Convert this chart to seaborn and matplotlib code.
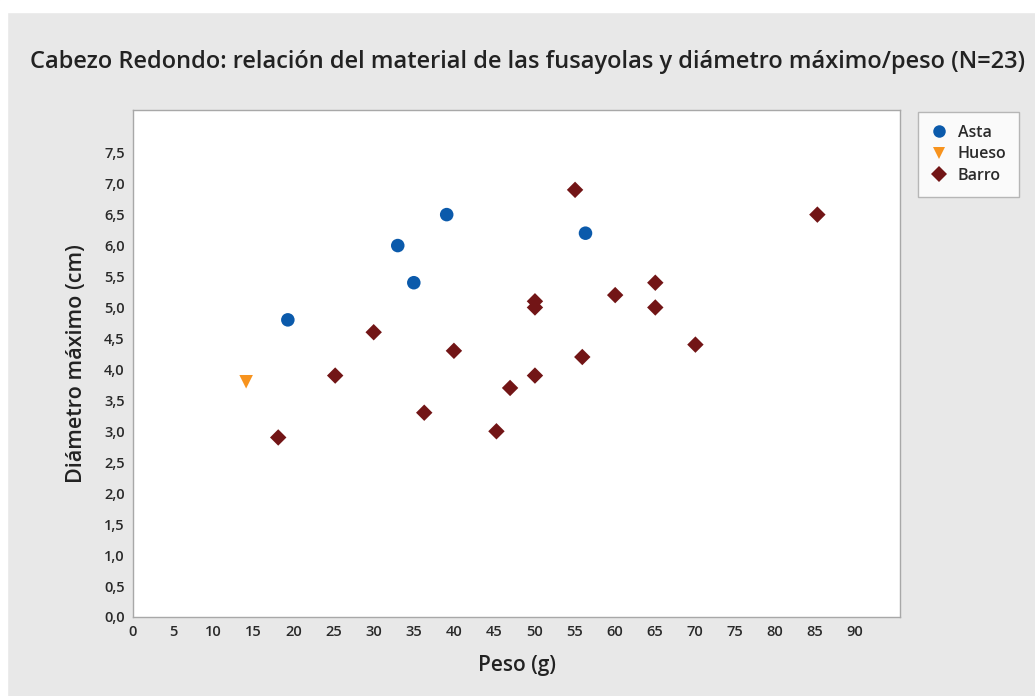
import pandas as pd
import matplotlib
matplotlib.use("Agg")
import matplotlib.pyplot as plt
import seaborn as sns

# Data
asta_peso = [19.3, 33.0, 35.0, 39.1, 56.4]
asta_diam = [4.8, 6.0, 5.4, 6.5, 6.2]

hueso_peso = [14.1]
hueso_diam = [3.8]

barro_peso = [18.1, 25.2, 30.0, 36.3, 40.0, 45.3, 47.0, 50.1, 50.1, 50.1,
              55.1, 56.0, 60.1, 65.1, 65.1, 70.1, 85.3]
barro_diam = [2.9, 3.9, 4.6, 3.3, 4.3, 3.0, 3.7, 3.9, 5.1, 5.0,
              6.9, 4.2, 5.2, 5.4, 5.0, 4.4, 6.5]

materiales = ["Asta", "Hueso", "Barro"]
colores = {"Asta": "#0b5aab", "Hueso": "#f7931e", "Barro": "#721516"}
marcadores = {"Asta": "o", "Hueso": "v", "Barro": "D"}

x_ticks = list(range(0, 95, 5))
y_ticks = [i * 0.5 for i in range(16)]

df = pd.DataFrame({
    "peso": asta_peso + hueso_peso + barro_peso,
    "diam": asta_diam + hueso_diam + barro_diam,
    "material": (["Asta"] * len(asta_peso) + ["Hueso"] * len(hueso_peso)
                 + ["Barro"] * len(barro_peso)),
})

sns.set_style("white")
plt.rcParams["font.family"] = ["Open Sans", "DejaVu Sans"]

bg = "#e8e8e8"
fig = plt.figure(figsize=(10.35, 6.96), dpi=100, facecolor=bg)
# thin white border along top and left, as in the screenshot
fig.patches.append(plt.Rectangle((0, 1 - 12 / 696), 1, 12 / 696, transform=fig.transFigure,
                                 color="white", zorder=0))
fig.patches.append(plt.Rectangle((0, 0), 7 / 1035, 1, transform=fig.transFigure,
                                 color="white", zorder=0))

ax = fig.add_axes([133 / 1035, 1 - 617 / 696, (900 - 133) / 1035, (617 - 110) / 696])

sizes = {"Asta": 95, "Hueso": 95, "Barro": 70}
for m in materiales:
    sub = df[df["material"] == m]
    sns.scatterplot(data=sub, x="peso", y="diam", color=colores[m],
                    marker=marcadores[m], s=sizes[m], edgecolor="none",
                    ax=ax, legend=False)

ax.set_xlim(0, 95.6)
ax.set_ylim(0, 8.19)
ax.set_xticks(x_ticks)
ax.set_yticks(y_ticks)
ax.set_yticklabels([f"{v:.1f}".replace(".", ",") for v in y_ticks])
ax.tick_params(axis="both", direction="out", length=4, width=1, color="#a0a0a0",
               labelsize=10.5, labelcolor="#2a2a2a", pad=2)
for lbl in ax.get_xticklabels() + ax.get_yticklabels():
    lbl.set_fontweight("semibold")
for s in ax.spines.values():
    s.set_color("#a8a8a8")
    s.set_linewidth(1)

ax.set_xlabel("Peso (g)", fontsize=15, fontweight="semibold", color="#222222", labelpad=11)
ax.set_ylabel("Diámetro máximo (cm)", fontsize=15.5, fontweight="semibold", color="#222222", labelpad=12)

fig.text(0.5 * (28 + 1028) / 1035, 1 - 68 / 696,
         "Cabezo Redondo: relación del material de las fusayolas y diámetro máximo/peso (N=23)",
         ha="center", va="baseline", fontsize=17, fontweight="semibold", color="#222222")

handles = [plt.Line2D([], [], linestyle="none", marker=marcadores[m], color=colores[m],
                      markersize=9 if m != "Barro" else 8, markeredgewidth=0)
           for m in materiales]
leg = fig.legend(handles, materiales, loc="upper left",
                 bbox_to_anchor=(918 / 1035, 1 - 112 / 696),
                 frameon=True, fancybox=False,
                 prop={"size": 11.5, "weight": "semibold"},
                 handletextpad=0.7, borderpad=0.8, labelspacing=0.35,
                 handlelength=1.0, borderaxespad=0)
for t in leg.get_texts():
    t.set_color("#2a2a2a")
leg.get_frame().set_edgecolor("#a8a8a8")
leg.get_frame().set_facecolor("white")

fig.savefig("out.png", dpi=100, facecolor=bg)
